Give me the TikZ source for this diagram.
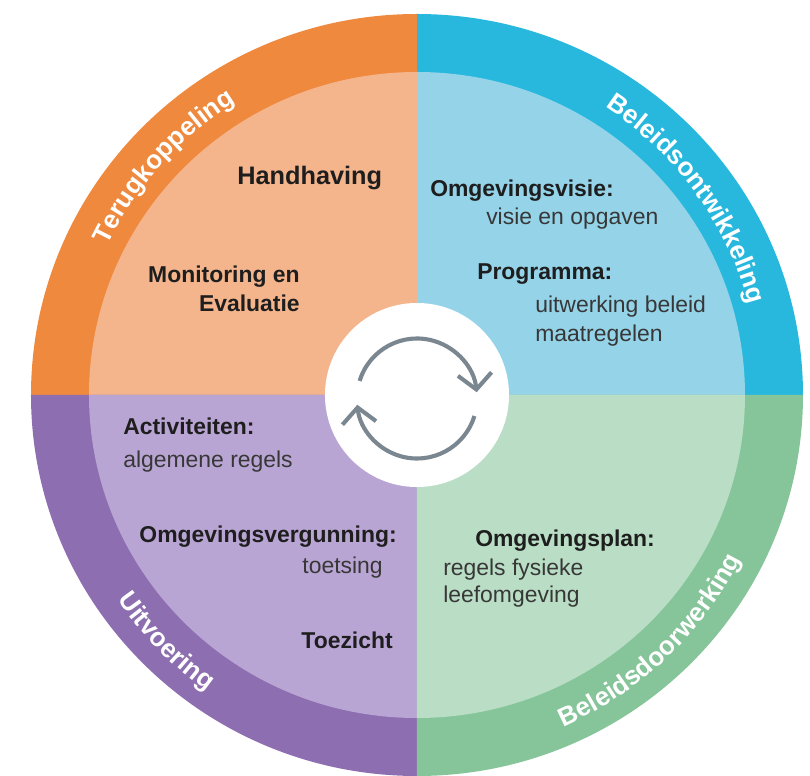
\documentclass[tikz,border=0pt]{standalone}
\usepackage{fontspec}
\setmainfont{Liberation Sans}
\usepackage{tikz}
\usetikzlibrary{arrows.meta,decorations.text}
\definecolor{ringOrange}{RGB}{239,137,62}
\definecolor{fillOrange}{RGB}{245,181,140}
\definecolor{ringBlue}{RGB}{40,184,222}
\definecolor{fillBlue}{RGB}{148,211,232}
\definecolor{ringGreen}{RGB}{134,196,154}
\definecolor{fillGreen}{RGB}{186,222,197}
\definecolor{ringPurple}{RGB}{141,110,176}
\definecolor{fillPurple}{RGB}{185,165,211}
\definecolor{cycleGray}{RGB}{122,134,144}
\definecolor{textDark}{RGB}{30,30,30}
\definecolor{textGray}{RGB}{55,55,55}

\begin{document}
\begin{tikzpicture}[x=0.025cm,y=0.025cm,
    head/.style={inner sep=0pt,text=textDark,font=\fontsize{16.3}{21.3}\selectfont\bfseries},
    body/.style={inner sep=0pt,text=textGray,font=\fontsize{16.3}{21.3}\selectfont},
    ringlabel/.style={decorate,decoration={text along path,text align=center,text color=white,
        text={|\fontsize{18.5}{22}\selectfont\bfseries|#1}}},
    cyclearrow/.style={draw=cycleGray,line width=2.9pt,-{Straight Barb[length=11pt,width=24pt]}}]
    \useasboundingbox (-417,-381) rectangle (393,395);

    % quadrants: outer ring and lighter inner part
    \foreach \a/\ring/\inner in {0/ringBlue/fillBlue,90/ringOrange/fillOrange,
                                180/ringPurple/fillPurple,270/ringGreen/fillGreen}{
        \fill[\ring] (0,0) -- (\a:386 and 381) arc[start angle=\a,delta angle=90,x radius=386,y radius=381] -- cycle;
        \fill[\inner] (0,0) -- (\a:328 and 323) arc[start angle=\a,delta angle=90,x radius=328,y radius=323] -- cycle;
    }

    % ring labels
    \path[ringlabel=Terugkoppeling] (180:344) arc[start angle=180,end angle=96,radius=344];
    \path[ringlabel=Beleidsontwikkeling] (82:344) arc[start angle=82,end angle=-10,radius=344];
    \path[ringlabel=Beleidsdoorwerking] (-94:363) arc[start angle=-94,end angle=1,radius=363];
    \path[ringlabel=Uitvoering] (-180:363) arc[start angle=-180,end angle=-91,radius=363];

    % centre with cycle arrows
    \node[circle,fill=white,minimum size=4.6cm,inner sep=0pt] (hub) at (0,0) {};
    \draw[cyclearrow] (0,-3.5) ++(163:60) arc[start angle=163,end angle=6,radius=60];
    \draw[cyclearrow] (0,-3.5) ++(-17:60) arc[start angle=-17,end angle=-174,radius=60];

    % Terugkoppeling
    \node[head,anchor=base west,font=\fontsize{18}{22}\selectfont\bfseries] (handhaving) at (-180,210) {Handhaving};
    \node[head,anchor=base east,align=right] (monitoring) at (-117,83) {Monitoring en\\Evaluatie};

    % Beleidsontwikkeling
    \node[head,anchor=base west] (visie) at (13,198) {Omgevingsvisie:};
    \node[body,anchor=base west] (visietekst) at (69,170) {visie en opgaven};
    \node[head,anchor=base west] (programma) at (60,115) {Programma:};
    \node[body,anchor=base west,align=left] (programmatekst) at (118,53) {uitwerking beleid\\maatregelen};

    % Beleidsdoorwerking
    \node[head,anchor=base west] (plan) at (58,-152) {Omgevingsplan:};
    \node[body,anchor=base west,align=left,font=\fontsize{16.3}{19.2}\selectfont] (plantekst) at (26,-207) {regels fysieke\\leefomgeving};

    % Uitvoering
    \node[head,anchor=base west] (activiteiten) at (-294,-40) {Activiteiten:};
    \node[body,anchor=base west] (activiteitentekst) at (-294,-73) {algemene regels};
    \node[head,anchor=base east] (vergunning) at (-20,-148) {Omgevingsvergunning:};
    \node[body,anchor=base east] (vergunningtekst) at (-34,-178) {toetsing};
    \node[head,anchor=base east] (toezicht) at (-24,-253) {Toezicht};
\end{tikzpicture}
\end{document}
